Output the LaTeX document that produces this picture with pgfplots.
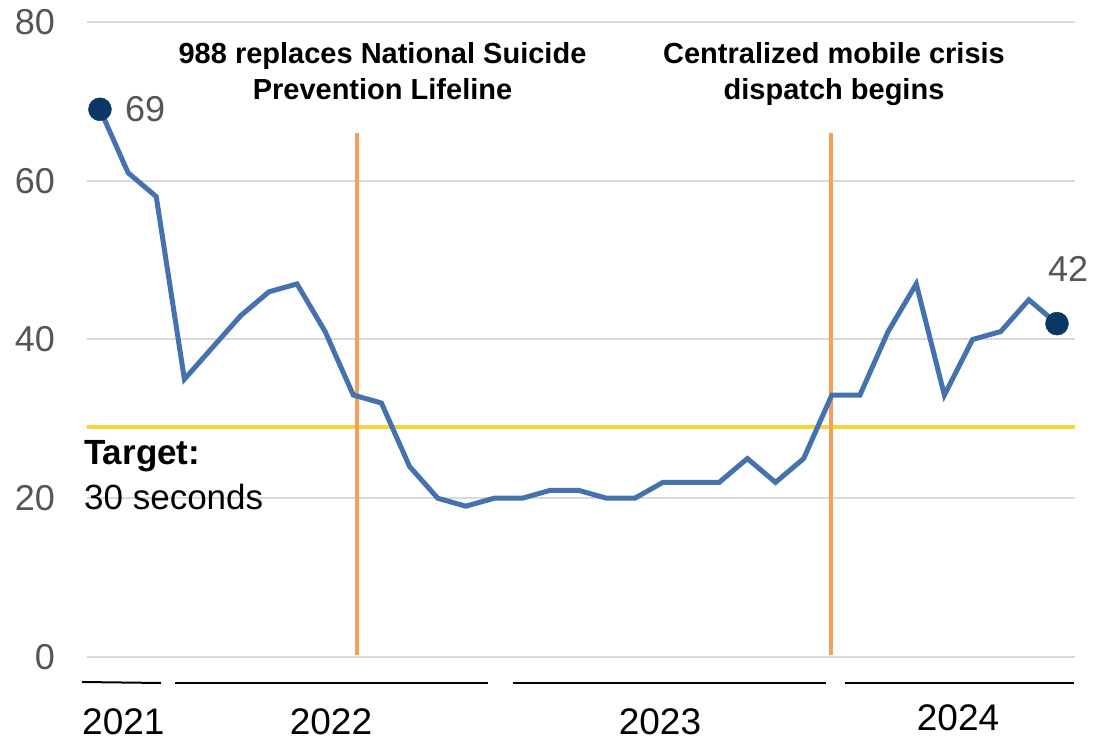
\documentclass[border=0pt]{standalone}
\usepackage{fontspec}
\setmainfont{Liberation Sans}
\usepackage{pgfplots}
\pgfplotsset{compat=1.18}
\definecolor{lineblue}{HTML}{4571AF}
\definecolor{navy}{HTML}{0B3765}
\definecolor{gridgray}{HTML}{D9D9D9}
\definecolor{tickgray}{HTML}{555555}
\definecolor{orangel}{HTML}{F5A05A}
\definecolor{yell}{HTML}{F7D43C}
\begin{document}
\begin{tikzpicture}[x=1pt,y=1pt]
\useasboundingbox (0,0) rectangle (1094,741);
\begin{axis}[
  at={(87pt,84pt)}, anchor=south west,
  scale only axis, width=988pt, height=635pt,
  xmin=-0.46, xmax=34.64, ymin=0, ymax=80,
  axis line style={draw=none},
  major tick length=0pt,
  xtick=\empty,
  ytick={0,20,40,60,80},
  ymajorgrids,
  grid style={gridgray, line width=2pt},
  /pgf/number format/assume math mode=true,
  yticklabel style={font=\fontsize{36}{40}\selectfont, text=tickgray, inner sep=0pt, anchor=east, xshift=-32pt},
  clip=false,
]
\addplot[yell, line width=3.5pt] coordinates {(-0.46,29) (34.64,29)};
\addplot[orangel, line width=3.5pt] coordinates {(9.13,0.3) (9.13,66)};
\addplot[orangel, line width=3.5pt] coordinates {(25.97,0.3) (25.97,66)};
\addplot[lineblue, line width=5pt] table {
x y
0 69
1 61
2 58
3 35
4 39
5 43
6 46
7 47
8 41
9 33
10 32
11 24
12 20
13 19
14 20
15 20
16 21
17 21
18 20
19 20
20 22
21 22
22 22
23 25
24 22
25 25
26 33
27 33
28 41
29 47
30 33
31 40
32 41
33 45
34 42
};
\addplot[only marks, mark=*, mark size=11.5pt, navy] coordinates {(0,69) (34,42)};
\end{axis}
\node[anchor=base west, inner sep=0pt, text=tickgray, font=\fontsize{36}{40}\selectfont] at (125,619) {69};
\node[anchor=base west, inner sep=0pt, text=tickgray, font=\fontsize{36}{40}\selectfont] at (1048,459) {42};
\node[anchor=base, inner sep=0pt, font=\fontsize{29}{32}\selectfont\bfseries] at (382.5,677) {988 replaces National Suicide};
\node[anchor=base, inner sep=0pt, font=\fontsize{29}{32}\selectfont\bfseries] at (382.5,641) {Prevention Lifeline};
\node[anchor=base, inner sep=0pt, font=\fontsize{29}{32}\selectfont\bfseries] at (834,677) {Centralized mobile crisis};
\node[anchor=base, inner sep=0pt, font=\fontsize{29}{32}\selectfont\bfseries] at (834,641) {dispatch begins};
\node[anchor=base west, inner sep=0pt, font=\fontsize{35}{40}\selectfont\bfseries] at (84,276) {Target:};
\node[anchor=base west, inner sep=0pt, font=\fontsize{35}{40}\selectfont] at (84,231) {30 seconds};
\draw[black, line width=2pt] (82,59) -- (161,58);
\draw[black, line width=2pt] (175,58) -- (488,58);
\draw[black, line width=2pt] (513,58) -- (826,58);
\draw[black, line width=2pt] (845,58) -- (1074,58);
\node[anchor=base west, inner sep=0pt, font=\fontsize{37}{40}\selectfont] at (82,6) {2021};
\node[anchor=base, inner sep=0pt, font=\fontsize{37}{40}\selectfont] at (331,6) {2022};
\node[anchor=base, inner sep=0pt, font=\fontsize{37}{40}\selectfont] at (660,6) {2023};
\node[anchor=base, inner sep=0pt, font=\fontsize{37}{40}\selectfont] at (958,10) {2024};
\end{tikzpicture}
\end{document}
